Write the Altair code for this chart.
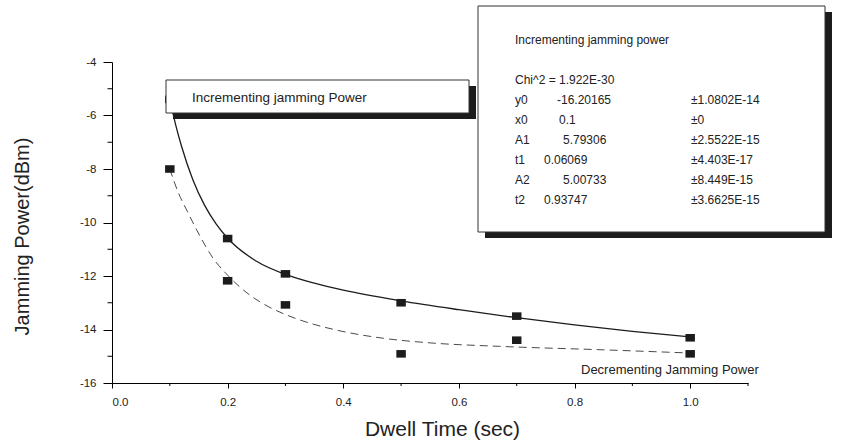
import altair as alt
import pandas as pd

FONT = "Liberation Sans"
INK = "#1c1c1c"

# Measured jamming power at each dwell time
dwell_time = [0.1, 0.2, 0.3, 0.5, 0.7, 1.0]
inc_power = [-5.40, -10.60, -11.92, -13.00, -13.50, -14.31]
dec_power = [-8.00, -12.18, -13.08, -14.91, -14.40, -14.91]

# Fitted decay curves (solid: incrementing, dashed: decrementing)
inc_fit_t = [0.1, 0.11, 0.12, 0.14, 0.16, 0.18, 0.2, 0.25, 0.3, 0.35, 0.4, 0.5, 0.6, 0.7, 0.8, 0.9, 1.0]
inc_fit_p = [-5.40, -6.34, -7.13, -8.41, -9.35, -10.05, -10.59, -11.45, -11.94, -12.27, -12.53,
             -12.93, -13.26, -13.56, -13.83, -14.07, -14.28]
dec_fit_t = [0.1, 0.115, 0.13, 0.147, 0.175, 0.2, 0.24, 0.27, 0.3, 0.33, 0.39, 0.47, 0.55, 0.67, 0.85, 1.0]
dec_fit_p = [-8.00, -8.90, -9.57, -10.30, -11.34, -11.97, -12.74, -13.14, -13.44, -13.68, -14.03,
             -14.33, -14.50, -14.63, -14.76, -14.88]

# Axis ticks
x_major = [0.0, 0.2, 0.4, 0.6, 0.8, 1.0]
x_minor = [0.1, 0.3, 0.5, 0.7, 0.9, 1.1]
y_major = [-16, -14, -12, -10, -8, -6, -4]
y_minor = [-15, -13, -11, -9, -7, -5]

# Labels
legend_inc = "Incrementing jamming Power"
legend_dec = "Decrementing Jamming Power"

fit_title = "Incrementing jamming power"
fit_chi = "Chi^2 = 1.922E-30"
fit_names = ["y0", "x0", "A1", "t1", "A2", "t2"]
fit_values = ["-16.20165", "0.1", "5.79306", "0.06069", "5.00733", "0.93747"]
fit_errors = ["±1.0802E-14", "±0", "±2.5522E-15", "±4.403E-17", "±8.449E-15", "±3.6625E-15"]

x_enc = alt.X(
    "t:Q",
    scale=alt.Scale(domain=[0, 1.1], nice=False, zero=False),
    axis=alt.Axis(
        values=x_major, format=".1f", tickSize=5, labelPadding=8,
        title="Dwell Time (sec)", titleFontSize=21, titleX=330, titleY=52,
        titleAlign="center", titleBaseline="alphabetic",
    ),
)
y_enc = alt.Y(
    "p:Q",
    scale=alt.Scale(domain=[-16, -4], nice=False, zero=False),
    axis=alt.Axis(
        values=y_major, labelExpr="datum.value + ''", tickSize=9, labelPadding=7,
        title="Jamming Power(dBm)", titleFontSize=20, titleAngle=270,
        titleX=-84, titleY=174, titleAlign="center", titleBaseline="alphabetic",
    ),
)

inc_curve = alt.Chart(pd.DataFrame({"t": inc_fit_t, "p": inc_fit_p})).mark_line(
    interpolate="monotone", color=INK, strokeWidth=1.3
).encode(x=x_enc, y=y_enc)

dec_curve = alt.Chart(pd.DataFrame({"t": dec_fit_t, "p": dec_fit_p})).mark_line(
    interpolate="monotone", color="#4a4a4a", strokeWidth=1, strokeDash=[8, 5]
).encode(x="t:Q", y="p:Q")

points = alt.Chart(
    pd.DataFrame({"t": dwell_time + dwell_time, "p": inc_power + dec_power})
).mark_point(
    shape="M-1,-0.8H1V0.8H-1Z", size=90, filled=True, fill=INK, opacity=1, strokeWidth=0
).encode(x="t:Q", y="p:Q")

# Minor ticks on both axes
x_minor_ticks = alt.Chart(pd.DataFrame({"t": x_minor})).mark_rule(
    color="black", strokeWidth=1
).encode(x="t:Q", y=alt.value(321), y2=alt.value(324))
y_minor_ticks = alt.Chart(pd.DataFrame({"p": y_minor})).mark_rule(
    color="black", strokeWidth=1
).encode(y="p:Q", x=alt.value(-4.5), x2=alt.value(0))

one = pd.DataFrame({"k": [0]})


def box(x0, x1, y0, y1, shadow=7):
    """White framed box with a dark drop shadow."""
    shade = alt.Chart(one).mark_rect(fill=INK).encode(
        x=alt.value(x0 + shadow), x2=alt.value(x1 + shadow),
        y=alt.value(y0 + 6), y2=alt.value(y1 + 6),
    )
    face = alt.Chart(one).mark_rect(fill="white", stroke="#333333", strokeWidth=1).encode(
        x=alt.value(x0), x2=alt.value(x1), y=alt.value(y0), y2=alt.value(y1),
    )
    return [shade, face]


def label(text, x, y, size):
    return alt.Chart(pd.DataFrame({"label": [text]})).mark_text(
        align="left", baseline="alphabetic", font=FONT, fontSize=size, color="#222222"
    ).encode(x=alt.value(x), y=alt.value(y), text="label:N")


layers = [inc_curve, dec_curve, points, x_minor_ticks, y_minor_ticks]

# Series label boxes
layers += box(54, 357, 18, 51)
layers.append(label(legend_inc, 80, 40, 13.5))
layers.append(label(legend_dec, 469, 312, 13))

# Fit parameter panel
layers += box(366, 713, -56, 170)
layers.append(label(fit_title, 403, -18, 12))
layers.append(label(fit_chi, 403, 22, 12))
value_x = [445, 447, 451, 432, 451, 432]
for i in range(len(fit_names)):
    row_y = 42 + 20 * i
    layers.append(label(fit_names[i], 403, row_y, 12))
    layers.append(label(fit_values[i], value_x[i], row_y, 12))
    layers.append(label(fit_errors[i], 579, row_y, 12))

chart = alt.layer(*layers).properties(
    width=636,
    height=321,
    autosize=alt.AutoSizeParams(type="none"),
    padding={"left": 112, "top": 62, "right": 95, "bottom": 57},
    background="white",
).configure_view(
    strokeWidth=0
).configure_axis(
    grid=False,
    domainColor="black",
    domainWidth=1,
    tickColor="black",
    tickWidth=1,
    labelFont=FONT,
    labelFontSize=11.5,
    labelColor="#222222",
    titleFont=FONT,
    titleFontWeight="normal",
    titleColor="#222222",
)

chart.save("out.html", embed_options={"renderer": "svg", "actions": False})
